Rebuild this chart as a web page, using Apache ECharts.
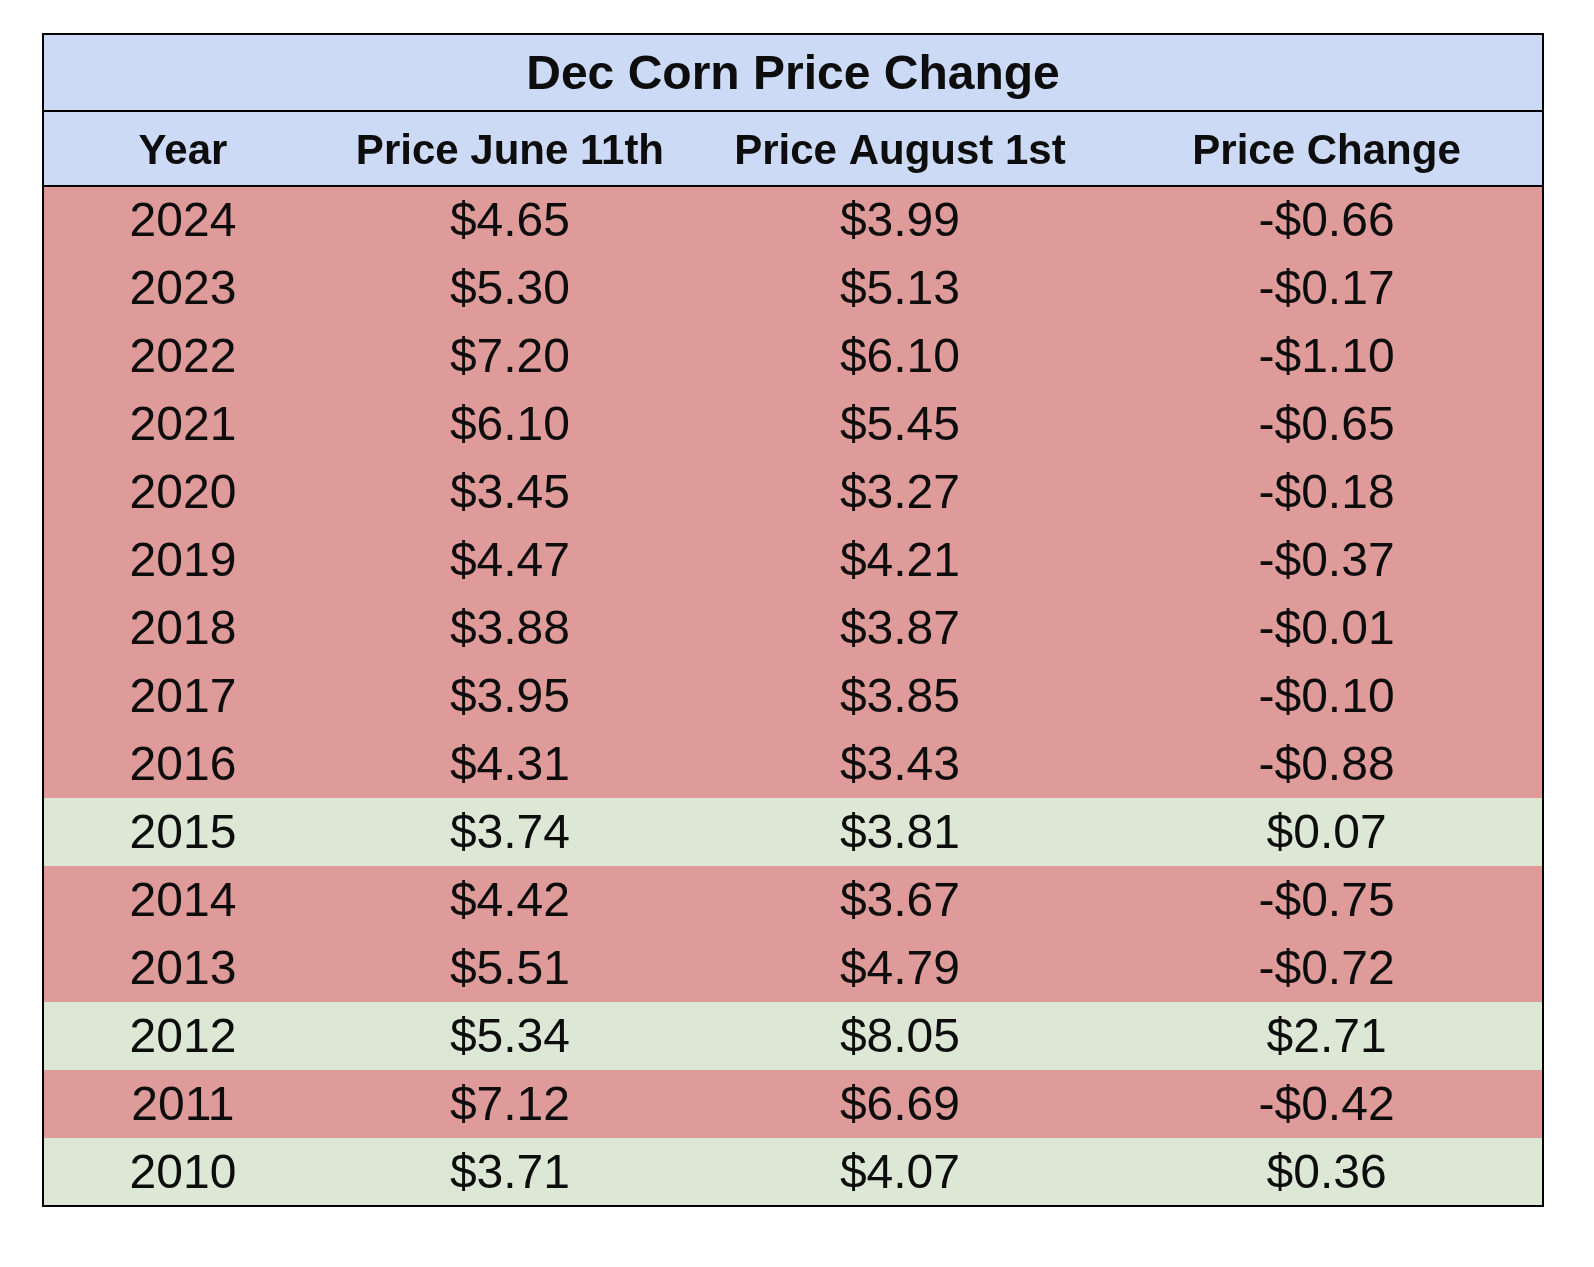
<!DOCTYPE html>
<html lang="en">
<head>
    <meta charset="UTF-8"/>
    <title>Dec Corn Price Change</title>
    <script src="https://cdn.jsdelivr.net/npm/echarts@6/dist/echarts.min.js"></script>
    <style>
        html, body { margin: 0; padding: 0; background: #fff; }
    </style>
</head>
<body>
<div id="main" style="width:1594px;height:1267px"></div>

<script type="text/javascript">
    // table content
    var title = 'Dec Corn Price Change';
    var headers = ['Year', 'Price June 11th', 'Price August 1st', 'Price Change'];
    var years = ['2024', '2023', '2022', '2021', '2020', '2019', '2018', '2017',
        '2016', '2015', '2014', '2013', '2012', '2011', '2010'];
    var priceJune = [4.65, 5.30, 7.20, 6.10, 3.45, 4.47, 3.88, 3.95, 4.31, 3.74, 4.42, 5.51, 5.34, 7.12, 3.71];
    var priceAug = [3.99, 5.13, 6.10, 5.45, 3.27, 4.21, 3.87, 3.85, 3.43, 3.81, 3.67, 4.79, 8.05, 6.69, 4.07];
    var priceChange = [-0.66, -0.17, -1.10, -0.65, -0.18, -0.37, -0.01, -0.10, -0.88, 0.07, -0.75, -0.72, 2.71, -0.42, 0.36];

    // layout
    var tableLeft = 43, tableTop = 34, tableWidth = 1500;
    var titleH = 77, headerH = 75, rowH = 68;
    var colCenters = [0.0933, 0.3113, 0.5713, 0.8557]; // fraction of table width
    var font = '"Liberation Sans", Arial, Helvetica, sans-serif';
    var blue = '#cddaf5', red = '#df9b9a', green = '#dce8d5', ink = '#0d0d0d';

    var dataTop = tableTop + titleH + headerH;
    var tableBottom = dataTop + rowH * years.length;

    function money(v) {
        return (v < 0 ? '-' : '') + '$' + Math.abs(v).toFixed(2);
    }

    var rows = years.map(function (y, i) {
        return [0.5, i, priceJune[i], priceAug[i], priceChange[i]];
    });

    var myChart = echarts.init(document.getElementById('main'));

    var graphics = [
        {
            type: 'rect', z: 1,
            shape: {x: tableLeft, y: tableTop, width: tableWidth, height: titleH + headerH},
            style: {fill: blue}
        },
        {
            type: 'text', z: 5,
            x: tableLeft + tableWidth / 2, y: tableTop + titleH / 2 + 3,
            style: {
                text: title, font: 'bold 48px ' + font, fill: ink,
                align: 'center', verticalAlign: 'middle'
            }
        },
        {
            type: 'line', z: 50,
            shape: {x1: tableLeft, y1: tableTop + titleH, x2: tableLeft + tableWidth, y2: tableTop + titleH},
            style: {stroke: '#000', lineWidth: 2}
        },
        {
            type: 'line', z: 50,
            shape: {x1: tableLeft, y1: dataTop, x2: tableLeft + tableWidth, y2: dataTop},
            style: {stroke: '#000', lineWidth: 2}
        },
        {
            type: 'rect', z: 60,
            shape: {x: tableLeft, y: tableTop, width: tableWidth, height: tableBottom - tableTop},
            style: {fill: null, stroke: '#000', lineWidth: 2}
        }
    ];
    headers.forEach(function (h, i) {
        graphics.push({
            type: 'text', z: 5,
            x: tableLeft + colCenters[i] * tableWidth, y: tableTop + titleH + headerH / 2 + 4,
            style: {
                text: h, font: 'bold 42px ' + font, fill: ink,
                align: 'center', verticalAlign: 'middle'
            }
        });
    });

    var option = {
        animation: false,
        backgroundColor: '#fff',
        grid: {
            left: tableLeft,
            top: dataTop,
            width: tableWidth,
            height: rowH * years.length
        },
        xAxis: {type: 'value', min: 0, max: 1, show: false},
        yAxis: {type: 'category', data: years, inverse: true, show: false},
        graphic: graphics,
        series: [
            {
                type: 'custom',
                data: rows,
                encode: {x: 0, y: 1},
                renderItem: function (params, api) {
                    var idx = api.value(1);
                    var cs = params.coordSys;
                    var c = api.coord([0, idx]);
                    var h = api.size([0, 1])[1];
                    var chg = api.value(4);
                    var texts = [years[idx], money(api.value(2)), money(api.value(3)), money(chg)];
                    var children = [{
                        type: 'rect',
                        shape: {x: cs.x, y: c[1] - h / 2, width: cs.width, height: h},
                        style: {fill: chg < 0 ? red : green}
                    }];
                    texts.forEach(function (t, k) {
                        var p = api.coord([colCenters[k], idx]);
                        children.push({
                            type: 'text',
                            x: p[0], y: p[1] + 3,
                            style: {
                                text: t, font: '48px ' + font, fill: ink,
                                align: 'center', verticalAlign: 'middle'
                            }
                        });
                    });
                    return {type: 'group', children: children};
                }
            }
        ]
    };

    myChart.setOption(option);
</script>
</body>
</html>
